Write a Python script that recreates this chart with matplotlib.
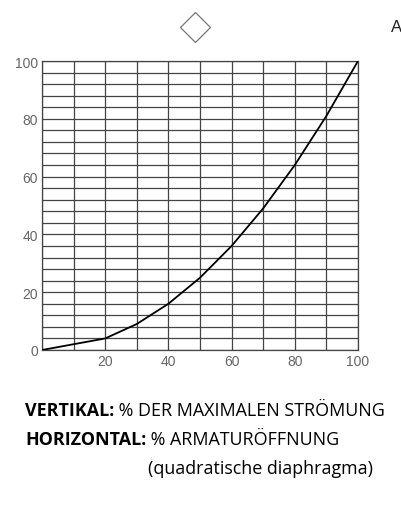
import matplotlib
matplotlib.use("Agg")
import matplotlib.pyplot as plt
from matplotlib.ticker import MultipleLocator

# % armature opening vs % of max flow (square diaphragm)
opening = [0, 10, 20, 30, 40, 50, 60, 70, 80, 90, 100]
flow = [0, 2, 4, 9, 16, 25, 36, 49, 64, 81, 100]

x_ticks = [20, 40, 60, 80, 100]
y_ticks = [0, 20, 40, 60, 80, 100]

fig = plt.figure(figsize=(4.01, 5.06), dpi=100)
ax = fig.add_axes([42 / 401, 1 - 351 / 506, 316 / 401, 289 / 506])

ax.plot(opening, flow, color="black", lw=1.3, zorder=3)
ax.set_xlim(0, 100)
ax.set_ylim(0, 100)
ax.xaxis.set_minor_locator(MultipleLocator(10))
ax.yaxis.set_minor_locator(MultipleLocator(4))
ax.set_xticks(x_ticks)
ax.set_yticks(y_ticks)
ax.grid(which="both", color="#444444", lw=0.9)
ax.tick_params(which="both", length=0, labelsize=10, labelcolor="#666666", pad=3)
for s in ax.spines.values():
    s.set_color("#444444")
    s.set_linewidth(0.9)
for lab in ax.get_xticklabels() + ax.get_yticklabels():
    lab.set_fontfamily("Liberation Sans")

# diamond symbol and letter at top
fig.add_artist(plt.Line2D([195 / 401], [1 - 28 / 506], marker="D", markersize=15.5,
                          markerfacecolor="white", markeredgecolor="#777777", mew=0.9))
fig.text(391 / 401, 1 - 28 / 506, "A", fontsize=12, fontfamily="Liberation Sans",
         va="center", ha="left", color="#222222")

fs = 12.9
fam = "Open Sans"
lines = [("VERTIKAL:", " % DER MAXIMALEN STRÖMUNG", 411),
         ("HORIZONTAL:", " % ARMATURÖFFNUNG", 440)]
fig.canvas.draw()
r = fig.canvas.get_renderer()
for bold, rest, y in lines:
    t = fig.text(25 / 401, 1 - y / 506, bold, fontsize=fs, fontweight="bold",
                 fontfamily=fam, va="center", ha="left")
    bb = t.get_window_extent(renderer=r)
    fig.text(bb.x1 / fig.bbox.width, 1 - y / 506, rest, fontsize=fs,
             fontfamily=fam, va="center", ha="left")
fig.text(148 / 401, 1 - 469 / 506, "(quadratische diaphragma)", fontsize=fs,
         fontfamily=fam, va="center", ha="left")

fig.savefig("out.png", dpi=100)
